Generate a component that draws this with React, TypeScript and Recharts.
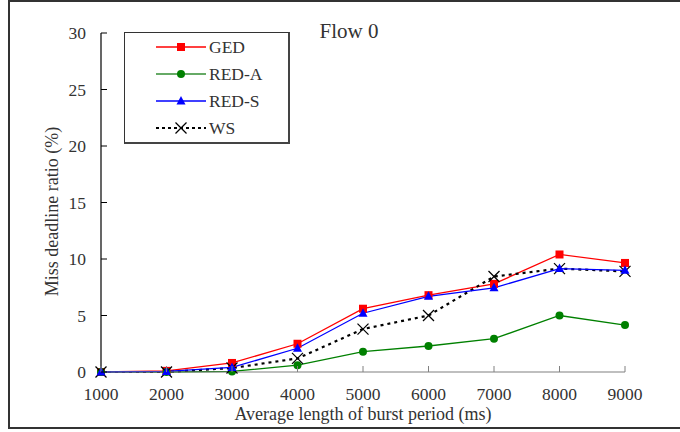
import React from 'react';
import { LineChart, Line, XAxis, YAxis, Legend } from 'recharts';

const categories = [1000, 2000, 3000, 4000, 5000, 6000, 7000, 8000, 9000];
const ged = [0, 0.1, 0.8, 2.5, 5.6, 6.8, 7.8, 10.4, 9.65];
const redA = [0, 0, 0.05, 0.6, 1.8, 2.3, 2.95, 5.0, 4.15];
const redS = [0, 0.05, 0.4, 2.1, 5.2, 6.7, 7.45, 9.15, 9.0];
const ws = [0, 0, 0.35, 1.2, 3.8, 5.0, 8.45, 9.15, 8.9];
const yTicks = [0, 5, 10, 15, 20, 25, 30];

const data = categories.map((x, i) => ({ x, GED: ged[i], REDA: redA[i], REDS: redS[i], WS: ws[i] }));

const FONT = '"Liberation Serif", "Times New Roman", serif';
const TXT = '#333';

const marker = (kind: string, cx: number, cy: number, key?: any) => {
  if (kind === 'sq') return <rect key={key} x={cx - 4} y={cy - 4} width={8} height={8} fill="#ff0000" />;
  if (kind === 'ci') return <circle key={key} cx={cx} cy={cy} r={4} fill="#008000" />;
  if (kind === 'tr')
    return <polygon key={key} points={`${cx},${cy - 5} ${cx + 4.5},${cy + 3.5} ${cx - 4.5},${cy + 3.5}`} fill="#0000ff" />;
  return (
    <g key={key}>
      <line x1={cx - 5.5} y1={cy - 5.5} x2={cx + 5.5} y2={cy + 5.5} stroke="#000" strokeWidth={1.2} />
      <line x1={cx - 5.5} y1={cy + 5.5} x2={cx + 5.5} y2={cy - 5.5} stroke="#000" strokeWidth={1.2} />
    </g>
  );
};

const dotFn = (kind: string) => (p: any) => marker(kind, p.cx, p.cy, `${kind}-${p.index}`);

const XTick = (p: any) => {
  const { x, y, payload } = p;
  return (
    <g>
      <line x1={x} y1={y} x2={x} y2={y - 6} stroke="#808080" strokeWidth={1} />
      <text x={x} y={y + 28} textAnchor="middle" fontFamily={FONT} fontSize={17.5} fill={TXT}>
        {payload.value}
      </text>
    </g>
  );
};

const YTick = (p: any) => {
  const { x, y, payload } = p;
  return (
    <g>
      <line x1={x} y1={y} x2={x + 6} y2={y} stroke="#000" strokeWidth={1} />
      <text x={x - 15} y={y + 6} textAnchor="end" fontFamily={FONT} fontSize={17.5} fill={TXT}>
        {payload.value}
      </text>
    </g>
  );
};

const legendItems = [
  { name: 'GED', color: '#ff0000', kind: 'sq', dash: undefined, w: 1.3 },
  { name: 'RED-A', color: '#66aa66', kind: 'ci', dash: undefined, w: 2 },
  { name: 'RED-S', color: '#0000ff', kind: 'tr', dash: undefined, w: 1.3 },
  { name: 'WS', color: '#000', kind: 'x', dash: '3 3', w: 2.2 },
];

const LegendBox = () => (
  <div
    style={{
      width: 166,
      height: 112,
      boxSizing: 'border-box',
      borderTop: '1px solid #333',
      borderLeft: '1px solid #333',
      borderRight: '2px solid #444',
      borderBottom: '2px solid #444',
      background: '#fff',
    }}
  >
    <svg width={164} height={110} style={{ display: 'block' }}>
      {legendItems.map((it, i) => {
        const cy = 14 + i * 27;
        return (
          <g key={it.name}>
            <line x1={31} y1={cy} x2={81} y2={cy} stroke={it.color} strokeWidth={it.w} strokeDasharray={it.dash} />
            {marker(it.kind, 56, cy)}
            <text x={84} y={cy + 6} fontFamily={FONT} fontSize={17.5} fill={TXT}>
              {it.name}
            </text>
          </g>
        );
      })}
    </svg>
  </div>
);

export default function App() {
  return (
    <div style={{ position: 'absolute', left: 0, top: 0, width: 680, height: 432, background: '#fff', overflow: 'hidden' }}>
      <div
        style={{
          position: 'absolute',
          left: 8,
          top: 0,
          width: 700,
          height: 429,
          boxSizing: 'border-box',
          borderLeft: '2px solid #333',
          borderTop: '2px solid #333',
          borderBottom: '2px solid #333',
        }}
      />
      <div style={{ position: 'absolute', left: 0, top: 0 }}>
        <LineChart width={680} height={432} data={data} margin={{ top: 33, right: 55, bottom: 0, left: 41 }}>
          <XAxis
            dataKey="x"
            type="number"
            domain={[1000, 9000]}
            ticks={categories}
            axisLine={{ stroke: '#808080', strokeWidth: 1.2 }}
            tickLine={false}
            tickSize={0}
            tickMargin={0}
            tick={<XTick />}
            height={60}
            interval={0}
            label={{
              content: (lp: any) => {
                const vb = lp.viewBox || { x: 101, y: 372, width: 524 };
                return (
                  <text x={vb.x + vb.width / 2} y={vb.y + 48} textAnchor="middle" fontFamily={FONT} fontSize={18} fill={TXT}>
                    Average length of burst period (ms)
                  </text>
                );
              },
            }}
          />
          <YAxis
            type="number"
            domain={[0, 30]}
            ticks={yTicks}
            axisLine={{ stroke: '#000', strokeWidth: 1.2 }}
            tickLine={false}
            tickSize={0}
            tickMargin={0}
            tick={<YTick />}
            width={60}
            interval={0}
            label={{
              content: (lp: any) => {
                const vb = lp.viewBox || { x: 41, y: 33, height: 339 };
                const cx = vb.x + 17;
                const cy = vb.y + vb.height / 2 + 9;
                return (
                  <text x={cx} y={cy} textAnchor="middle" fontFamily={FONT} fontSize={18} fill={TXT} transform={`rotate(-90, ${cx}, ${cy})`}>
                    Miss deadline ratio (%)
                  </text>
                );
              },
            }}
          />
          <Legend
            layout="horizontal"
            verticalAlign="middle"
            align="center"
            wrapperStyle={{ position: 'absolute', left: 124, top: 32, width: 166, height: 112 }}
            content={() => <LegendBox />}
          />
          <Line dataKey="GED" stroke="#ff0000" strokeWidth={1.3} dot={dotFn('sq')} isAnimationActive={false} />
          <Line dataKey="REDA" stroke="#008000" strokeWidth={1.3} dot={dotFn('ci')} isAnimationActive={false} />
          <Line dataKey="WS" stroke="#000" strokeWidth={2.2} strokeDasharray="3 4" dot={dotFn('x')} isAnimationActive={false} />
          <Line dataKey="REDS" stroke="#0000ff" strokeWidth={1.3} dot={dotFn('tr')} isAnimationActive={false} />
          <text x={349} y={38} textAnchor="middle" fontFamily={FONT} fontSize={21} fill={TXT}>
            Flow 0
          </text>
        </LineChart>
      </div>
    </div>
  );
}
